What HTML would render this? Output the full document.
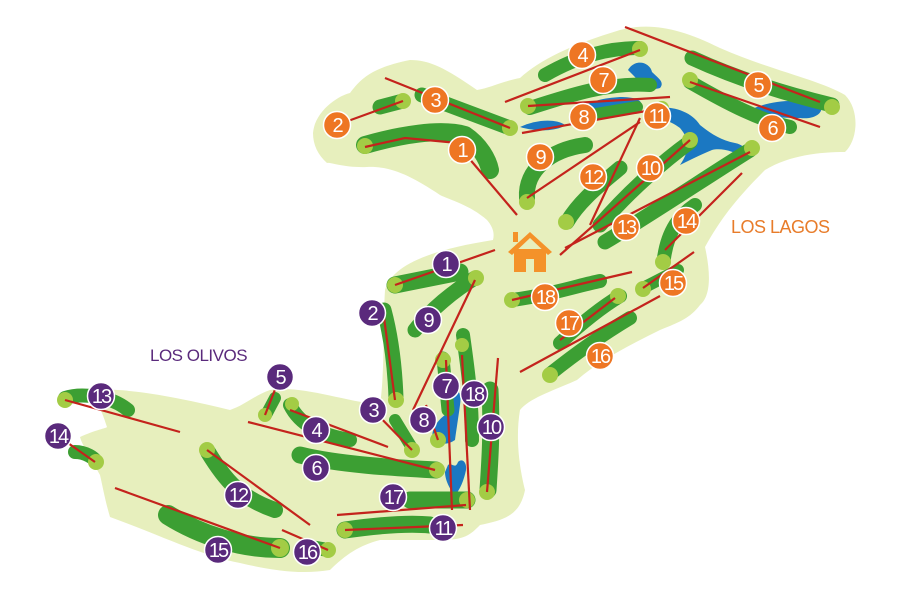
<!DOCTYPE html>
<html><head><meta charset="utf-8"><style>
html,body{margin:0;padding:0;background:#fff;}
svg{display:block;}
text{font-family:"Liberation Sans",sans-serif;}
.fw{fill:none;stroke:#3c9f33;stroke-linecap:round;stroke-linejoin:round;}
.rl{stroke:#c4231c;stroke-width:2.2;fill:none;}
.gr{fill:#a3cc45;}
.o circle{fill:#ee7623;stroke:#fff;stroke-width:1.5}
.p circle{fill:#5a2a7c;stroke:#fff;stroke-width:1.5}
.n text{fill:#fff;font-size:20px;text-anchor:middle;letter-spacing:-2px}
.w{fill:#1b78c2;}
</style></head><body>
<svg width="900" height="600" viewBox="0 0 900 600" xmlns="http://www.w3.org/2000/svg">
<path fill="#e7efbd" d="M313,133 C315,110 340,95 350,93 C360,80 370,68 410,60 C430,60 445,68 477,90 C490,88 500,82 520,78 C540,60 570,45 620,30 C650,22 680,28 720,48 C770,70 820,80 845,95 C860,110 858,140 845,152 C820,152 790,155 765,170 C735,200 720,220 705,247 C710,270 712,295 700,305 C690,318 680,322 660,330 C630,345 600,360 577,380 C550,392 530,398 520,410 C515,440 520,470 525,490 C520,515 505,520 480,525 C470,535 465,540 440,540 L380,540 C360,545 345,555 330,570 C300,575 270,570 240,563 C200,555 160,535 110,517 C105,500 103,488 100,475 C92,460 82,445 80,437 C95,430 107,428 107,427 C103,415 100,405 90,393 C100,386 150,390 230,410 C245,405 255,395 270,390 C300,385 340,400 380,405 C385,370 383,320 385,290 C392,265 430,250 493,240 C495,232 492,226 487,220 C470,205 450,200 440,195 C410,175 390,166 367,167 C345,168 330,162 327,163 C318,155 313,145 313,133 Z"/>
<path class="w" d="M628,70 C635,58 650,62 652,72 C658,78 665,82 660,88 C648,92 640,82 628,70Z"/>
<path class="w" d="M575,112 C590,100 605,98 620,97 C635,97 645,100 640,108 C630,112 612,110 600,112 C590,116 580,118 575,112Z"/>
<path class="w" d="M520,127 C535,120 555,118 565,125 C560,130 540,133 520,127Z"/>
<path class="w" d="M648,108 C670,105 690,110 700,125 C710,133 720,140 735,143 C745,145 750,152 745,160 C735,150 720,148 712,150 C700,155 690,160 680,165 C690,150 690,140 680,128 C670,120 655,118 648,108Z"/>
<path class="w" d="M750,110 C770,100 800,98 820,105 C825,112 815,120 800,118 C780,118 760,118 750,110Z"/>
<path class="w" d="M452,395 C458,388 462,392 460,405 C458,420 456,432 455,440 C448,445 440,445 433,440 C430,430 438,420 445,415 C448,405 450,398 452,395Z"/>
<path class="w" d="M448,465 C452,462 455,470 458,462 C462,458 467,462 466,470 C464,480 460,490 455,495 C450,490 445,480 445,472Z"/>
<g class="fw">
<path stroke-width="18" d="M365,145 C400,135 440,128 465,135 C480,145 488,160 490,170"/>
<path stroke-width="15" d="M380,107 L403,101"/>
<path stroke-width="15" d="M422,95 L510,128"/>
<path stroke-width="14" d="M545,75 C580,55 610,48 640,48"/>
<path stroke-width="15" d="M692,58 C740,80 790,95 832,105"/>
<path stroke-width="14" d="M690,82 C730,105 760,120 790,127"/>
<path stroke-width="14" d="M530,108 C570,95 610,82 650,85"/>
<path stroke-width="12" d="M590,115 L637,107"/>
<path stroke-width="16" d="M527,198 C525,170 550,150 585,145"/>
<path stroke-width="15" d="M600,225 C630,190 665,160 690,142"/>
<path stroke-width="15" d="M567,222 C580,200 600,185 620,168"/>
<path stroke-width="15" d="M605,242 C650,215 710,175 750,150"/>
<path stroke-width="14" d="M664,258 C668,230 680,215 695,205"/>
<path stroke-width="12" d="M643,288 L678,270"/>
<path stroke-width="14" d="M550,374 C580,350 610,330 630,318"/>
<path stroke-width="14" d="M560,343 C585,320 605,305 620,296"/>
<path stroke-width="14" d="M512,300 C550,295 580,285 600,281"/>
<path stroke-width="17" d="M395,285 L460,272"/>
<path stroke-width="15" d="M415,330 C430,310 455,290 475,278"/>
<path stroke-width="15" d="M384,310 C392,340 395,370 396,398"/>
<path stroke-width="12" d="M395,420 L412,448"/>
<path stroke-width="14" d="M290,405 C300,425 320,435 350,440"/>
<path stroke-width="12" d="M266,415 L275,398"/>
<path stroke-width="17" d="M300,455 C340,465 400,468 436,470"/>
<path stroke-width="13" d="M443,358 L448,410"/>
<path stroke-width="14" d="M463,335 C468,370 472,400 472,440"/>
<path stroke-width="17" d="M490,390 C492,430 490,460 488,490"/>
<path stroke-width="17" d="M410,500 L467,500"/>
<path stroke-width="17" d="M345,530 C380,525 410,523 430,525"/>
<path stroke-width="16" d="M208,452 C225,480 240,498 275,510"/>
<path stroke-width="14" d="M65,398 C80,393 110,395 128,410"/>
<path stroke-width="14" d="M75,452 C85,452 95,458 96,462"/>
<path stroke-width="20" d="M168,515 C200,535 240,548 280,548"/>
<path stroke-width="14" d="M305,546 L328,550"/>
</g>
<g class="gr">
<circle cx="365" cy="146" r="8"/><circle cx="403" cy="101" r="8"/><circle cx="510" cy="128" r="8"/>
<circle cx="640" cy="49" r="8"/><circle cx="832" cy="107" r="8"/><circle cx="690" cy="80" r="8"/>
<circle cx="528" cy="106" r="8"/><circle cx="662" cy="108" r="7"/><circle cx="527" cy="202" r="8"/>
<circle cx="690" cy="140" r="8"/><circle cx="566" cy="222" r="8"/><circle cx="752" cy="148" r="8"/>
<circle cx="663" cy="262" r="8"/><circle cx="643" cy="289" r="8"/><circle cx="550" cy="375" r="8"/>
<circle cx="618" cy="296" r="8"/><circle cx="512" cy="300" r="8"/>
<circle cx="395" cy="285" r="8"/><circle cx="476" cy="278" r="8"/><circle cx="396" cy="400" r="8"/>
<circle cx="412" cy="450" r="8"/><circle cx="292" cy="404" r="7"/><circle cx="265" cy="415" r="7"/>
<circle cx="437" cy="470" r="8"/><circle cx="443" cy="360" r="8"/><circle cx="438" cy="440" r="8"/>
<circle cx="462" cy="345" r="7"/><circle cx="487" cy="492" r="8"/><circle cx="467" cy="500" r="8"/>
<circle cx="345" cy="530" r="8"/><circle cx="207" cy="450" r="8"/><circle cx="65" cy="400" r="8"/>
<circle cx="96" cy="462" r="8"/><circle cx="280" cy="548" r="9"/><circle cx="328" cy="550" r="8"/>
</g>
<g class="rl">
<polyline points="365,147 405,138 458,143"/><line x1="462" y1="150" x2="517" y2="215"/>
<line x1="337" y1="125" x2="403" y2="101"/><line x1="385" y1="78" x2="510" y2="128"/>
<line x1="505" y1="102" x2="640" y2="50"/><line x1="625" y1="27" x2="820" y2="102"/>
<line x1="690" y1="82" x2="820" y2="127"/><line x1="528" y1="106" x2="670" y2="97"/>
<line x1="522" y1="133" x2="663" y2="108"/><line x1="527" y1="198" x2="640" y2="122"/>
<line x1="560" y1="255" x2="690" y2="140"/><line x1="590" y1="225" x2="640" y2="118"/>
<line x1="565" y1="248" x2="750" y2="152"/><line x1="665" y1="250" x2="742" y2="173"/>
<line x1="643" y1="288" x2="694" y2="252"/><line x1="520" y1="372" x2="660" y2="296"/>
<line x1="560" y1="340" x2="615" y2="298"/><line x1="512" y1="300" x2="632" y2="272"/>
<line x1="395" y1="285" x2="495" y2="250"/><line x1="413" y1="410" x2="475" y2="280"/>
<line x1="383" y1="310" x2="395" y2="400"/><line x1="373" y1="410" x2="412" y2="450"/>
<line x1="290" y1="410" x2="388" y2="447"/><line x1="280" y1="377" x2="265" y2="415"/>
<line x1="248" y1="422" x2="435" y2="470"/><line x1="446" y1="360" x2="452" y2="510"/>
<line x1="426" y1="405" x2="438" y2="440"/><line x1="462" y1="355" x2="470" y2="510"/>
<line x1="498" y1="358" x2="487" y2="492"/><line x1="337" y1="515" x2="466" y2="505"/>
<line x1="345" y1="530" x2="463" y2="525"/><line x1="207" y1="450" x2="310" y2="525"/>
<line x1="65" y1="400" x2="180" y2="432"/><line x1="58" y1="436" x2="95" y2="462"/>
<line x1="115" y1="488" x2="280" y2="548"/><line x1="282" y1="530" x2="328" y2="550"/>
</g>
<g fill="#f4922a">
<path d="M508,252 L530,232 L552,252 L548,255 L530,238 L512,255Z"/>
<rect x="514" y="249" width="32" height="23"/>
<rect x="513" y="232" width="5" height="10"/>
</g>
<rect x="526" y="259" width="8" height="13" fill="#e7efbd"/>
<g class="n o">
<g transform="translate(462,150)"><circle r="13.5"/><text y="7">1</text></g>
<g transform="translate(337,125)"><circle r="13.5"/><text y="7">2</text></g>
<g transform="translate(435,100)"><circle r="13.5"/><text y="7">3</text></g>
<g transform="translate(582,55)"><circle r="13.5"/><text y="7">4</text></g>
<g transform="translate(758,85)"><circle r="13.5"/><text y="7">5</text></g>
<g transform="translate(772,128)"><circle r="13.5"/><text y="7">6</text></g>
<g transform="translate(603,80)"><circle r="13.5"/><text y="7">7</text></g>
<g transform="translate(583,117)"><circle r="13.5"/><text y="7">8</text></g>
<g transform="translate(540,157)"><circle r="13.5"/><text y="7">9</text></g>
<g transform="translate(650,168)"><circle r="13.5"/><text y="7">10</text></g>
<g transform="translate(657,116)"><circle r="13.5"/><text y="7">11</text></g>
<g transform="translate(593,177)"><circle r="13.5"/><text y="7">12</text></g>
<g transform="translate(626,227)"><circle r="13.5"/><text y="7">13</text></g>
<g transform="translate(686,221)"><circle r="13.5"/><text y="7">14</text></g>
<g transform="translate(673,283)"><circle r="13.5"/><text y="7">15</text></g>
<g transform="translate(600,356)"><circle r="13.5"/><text y="7">16</text></g>
<g transform="translate(569,323)"><circle r="13.5"/><text y="7">17</text></g>
<g transform="translate(545,297)"><circle r="13.5"/><text y="7">18</text></g>
</g>
<g class="n p">
<g transform="translate(446,264)"><circle r="13.5"/><text y="7">1</text></g>
<g transform="translate(372,313)"><circle r="13.5"/><text y="7">2</text></g>
<g transform="translate(373,410)"><circle r="13.5"/><text y="7">3</text></g>
<g transform="translate(316,430)"><circle r="13.5"/><text y="7">4</text></g>
<g transform="translate(280,377)"><circle r="13.5"/><text y="7">5</text></g>
<g transform="translate(316,468)"><circle r="13.5"/><text y="7">6</text></g>
<g transform="translate(446,386)"><circle r="13.5"/><text y="7">7</text></g>
<g transform="translate(423,420)"><circle r="13.5"/><text y="7">8</text></g>
<g transform="translate(428,320)"><circle r="13.5"/><text y="7">9</text></g>
<g transform="translate(491,427)"><circle r="13.5"/><text y="7">10</text></g>
<g transform="translate(443,528)"><circle r="13.5"/><text y="7">11</text></g>
<g transform="translate(238,495)"><circle r="13.5"/><text y="7">12</text></g>
<g transform="translate(101,396)"><circle r="13.5"/><text y="7">13</text></g>
<g transform="translate(58,436)"><circle r="13.5"/><text y="7">14</text></g>
<g transform="translate(218,550)"><circle r="13.5"/><text y="7">15</text></g>
<g transform="translate(307,552)"><circle r="13.5"/><text y="7">16</text></g>
<g transform="translate(393,497)"><circle r="13.5"/><text y="7">17</text></g>
<g transform="translate(474,394)"><circle r="13.5"/><text y="7">18</text></g>
</g>
<text x="731" y="233" fill="#e87c2a" font-size="18" letter-spacing="-0.5">LOS LAGOS</text>
<text x="150" y="361" fill="#5a2a7c" font-size="17" letter-spacing="-0.5">LOS OLIVOS</text>
</svg>
</body></html>
